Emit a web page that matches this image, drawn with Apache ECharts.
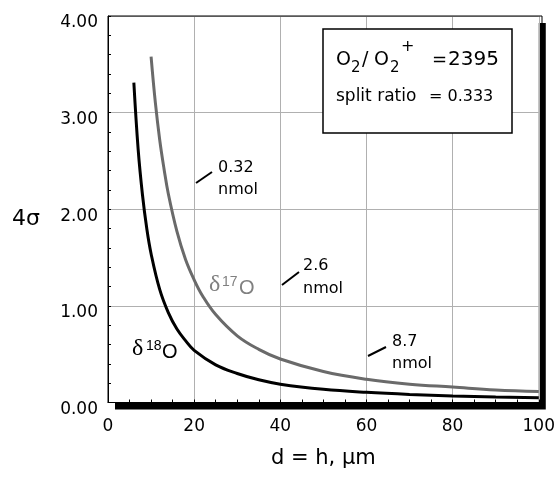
<!DOCTYPE html>
<html>
<head>
<meta charset="utf-8">
<script src="https://cdn.jsdelivr.net/npm/echarts@6/dist/echarts.min.js"></script>
<style>html,body{margin:0;padding:0;background:#fff;}#c{width:558px;height:477px;}</style>
</head>
<body>
<div id="c"></div>
<script>
// δ18O curve (d in µm, 4σ)
const d18_x = [6, 7, 8, 9, 10, 12, 14, 16, 18, 20, 25, 30, 35, 40, 50, 60, 70, 80, 90, 100];
const d18_y = [3.31, 2.62, 2.15, 1.80, 1.54, 1.17, 0.93, 0.76, 0.64, 0.54, 0.39, 0.30, 0.235, 0.19, 0.137, 0.105, 0.083, 0.068, 0.057, 0.049];
// δ17O curve
const d17_x = [10, 11, 12, 13, 14, 16, 18, 20, 22, 25, 30, 35, 40, 50, 60, 70, 80, 90, 100];
const d17_y = [3.58, 3.10, 2.72, 2.42, 2.16, 1.77, 1.48, 1.27, 1.10, 0.91, 0.69, 0.55, 0.45, 0.32, 0.24, 0.19, 0.16, 0.13, 0.113];
// tick labels
const xTickLabels = ['0', '20', '40', '60', '80', '100'];
const yTickLabels = ['0.00', '1.00', '2.00', '3.00', '4.00'];

const FONT = 'DejaVu Sans';
const chart = echarts.init(document.getElementById('c'), null, {renderer: 'canvas'});

function pairs(xs, ys) { return xs.map((x, i) => [x, ys[i]]); }
function txt(x, y, s, size, opt) {
  return {
    type: 'text', x: x, y: y, z: 100,
    style: Object.assign({text: s, fill: '#000', fontFamily: FONT, fontSize: size || 17,
      align: 'left', verticalAlign: 'middle'}, opt || {})
  };
}
function ln(x1, y1, x2, y2) {
  return {type: 'line', z: 100, shape: {x1: x1, y1: y1, x2: x2, y2: y2}, style: {stroke: '#000', lineWidth: 2}};
}

const G = {left: 108, right: 16, top: 16, bottom: 74.5};

const option = {
  animation: false,
  backgroundColor: '#fff',
  grid: [
    Object.assign({show: true, backgroundColor: '#fff', borderWidth: 0,
      shadowColor: '#000', shadowOffsetX: 7, shadowOffsetY: 7, shadowBlur: 0}, G),
    Object.assign({show: true, backgroundColor: 'transparent', borderColor: '#000', borderWidth: 1, z: 3}, G)
  ],
  xAxis: [{
    type: 'value', min: 0, max: 100, interval: 20, gridIndex: 0,
    name: 'd = h, µm', nameLocation: 'middle', nameGap: 46,
    nameTextStyle: {fontFamily: FONT, fontSize: 21, color: '#000'},
    axisLine: {lineStyle: {color: '#000', width: 1}},
    axisTick: {inside: true, length: 3, lineStyle: {color: '#000'}},
    minorTick: {show: true, splitNumber: 4, length: 3, lineStyle: {color: '#000'}},
    axisLabel: {fontFamily: FONT, fontSize: 17, color: '#000', margin: 16,
      formatter: (v) => xTickLabels[Math.round(v / 20)]},
    splitLine: {show: true, lineStyle: {color: '#b0b0b0', width: 1}}
  }, {
    type: 'value', min: 0, max: 100, gridIndex: 1, show: false
  }],
  yAxis: [{
    type: 'value', min: 0, max: 4, interval: 1, gridIndex: 0,
    axisLine: {show: true, lineStyle: {color: '#000', width: 1}},
    axisTick: {show: true, inside: true, length: 3, lineStyle: {color: '#000'}},
    minorTick: {show: true, splitNumber: 5, length: 3, lineStyle: {color: '#000'}},
    axisLabel: {fontFamily: FONT, fontSize: 17, color: '#000', margin: 10,
      verticalAlign: 'top', lineHeight: 14,
      formatter: (v) => yTickLabels[Math.round(v)]},
    splitLine: {show: true, lineStyle: {color: '#b0b0b0', width: 1}}
  }, {
    type: 'value', min: 0, max: 4, gridIndex: 1, show: false
  }],
  series: [
    {type: 'line', name: 'd17O', data: pairs(d17_x, d17_y), smooth: 0.4, showSymbol: false,
      lineStyle: {color: '#6a6a6a', width: 3}, z: 5},
    {type: 'line', name: 'd18O', data: pairs(d18_x, d18_y), smooth: 0.4, showSymbol: false,
      lineStyle: {color: '#000', width: 3}, z: 6}
  ],
  graphic: [
    // y axis name
    txt(12, 219, '4σ', 22),
    // info box
    {type: 'rect', z: 99, shape: {x: 323, y: 29, width: 189, height: 104},
      style: {fill: '#fff', stroke: '#000', lineWidth: 1.5}},
    txt(336, 60, 'O', 19),
    txt(351, 68, '2', 15),
    txt(362, 60, '/', 19),
    txt(374, 60, 'O', 19),
    txt(390, 68, '2', 15),
    txt(401, 47, '+', 16),
    txt(432, 60, '=', 18),
    txt(448, 60, '2395', 20),
    txt(336, 97, 'split ratio', 17),
    txt(429, 97, '= 0.333', 16),
    // nmol annotations
    txt(218, 168, '0.32', 16),
    txt(218, 190, 'nmol', 16),
    ln(196, 183, 212, 172),
    txt(303, 266, '2.6', 16),
    txt(303, 289, 'nmol', 16),
    ln(282, 285, 299, 272),
    txt(392, 342, '8.7', 16),
    txt(392, 364, 'nmol', 16),
    ln(368, 356, 386, 347),
    // series labels
    txt(209, 285, 'δ', 24, {fontFamily: 'Liberation Serif', fill: '#808080'}),
    txt(222, 282, '17', 14, {fontFamily: 'Liberation Sans', fill: '#808080'}),
    txt(239, 288, 'O', 20, {fontFamily: 'Liberation Sans', fill: '#808080'}),
    txt(132, 349, 'δ', 24, {fontFamily: 'Liberation Serif'}),
    txt(146, 346, '18', 14, {fontFamily: 'Liberation Sans'}),
    txt(162, 352, 'O', 20, {fontFamily: 'Liberation Sans'})
  ]
};
chart.setOption(option);
</script>
</body>
</html>
